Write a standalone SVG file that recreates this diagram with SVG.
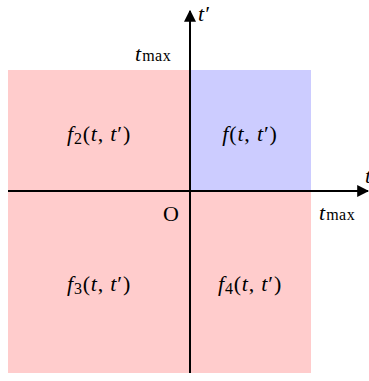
<svg xmlns="http://www.w3.org/2000/svg" width="369" height="381" viewBox="0 0 369 381">
<style>
.m{font-family:"Liberation Serif","DejaVu Serif",serif;font-size:22px;fill:#000}
.i{font-style:italic}
.s{font-size:16px}
.ax{stroke:#000;stroke-width:2;fill:none}
</style>
<defs>
<marker id="ah" viewBox="0 0 10 10" refX="9" refY="5" markerWidth="6" markerHeight="6" markerUnits="strokeWidth" orient="auto">
<path d="M0,0 L10,5 L0,10 Z" fill="#000"/>
</marker>
</defs>
<g id="regions">
<rect x="8" y="70" width="303" height="303" fill="#ffcccc"/>
<rect x="190" y="70" width="121" height="121" fill="#ccccff"/>
</g>
<g id="connectors">
<line class="ax" x1="8" y1="191" x2="368" y2="191" marker-end="url(#ah)"/>
<line class="ax" x1="190" y1="373" x2="190" y2="11" marker-end="url(#ah)"/>
</g>
<g id="labels">
<text class="m i" x="198" y="21">t′</text>
<text class="m" x="135" y="61"><tspan class="i">t</tspan><tspan class="s" dx="1" letter-spacing="0.5">max</tspan></text>
<text class="m" x="319" y="220"><tspan class="i">t</tspan><tspan class="s" dx="1" letter-spacing="0.5">max</tspan></text>
<text class="m i" x="365" y="183">t</text>
<text class="m" x="163" y="221">O</text>
<text class="m" x="99" y="141" text-anchor="middle" letter-spacing="0.8"><tspan class="i">f</tspan><tspan class="s" dy="3">2</tspan><tspan dy="-3">(</tspan><tspan class="i">t</tspan>, <tspan class="i">t</tspan>′)</text>
<text class="m" x="250" y="141" text-anchor="middle" letter-spacing="0.8"><tspan class="i">f</tspan>(<tspan class="i">t</tspan>, <tspan class="i">t</tspan>′)</text>
<text class="m" x="99" y="291" text-anchor="middle" letter-spacing="0.8"><tspan class="i">f</tspan><tspan class="s" dy="3">3</tspan><tspan dy="-3">(</tspan><tspan class="i">t</tspan>, <tspan class="i">t</tspan>′)</text>
<text class="m" x="250" y="291" text-anchor="middle" letter-spacing="0.8"><tspan class="i">f</tspan><tspan class="s" dy="3">4</tspan><tspan dy="-3">(</tspan><tspan class="i">t</tspan>, <tspan class="i">t</tspan>′)</text>
</g>
</svg>
